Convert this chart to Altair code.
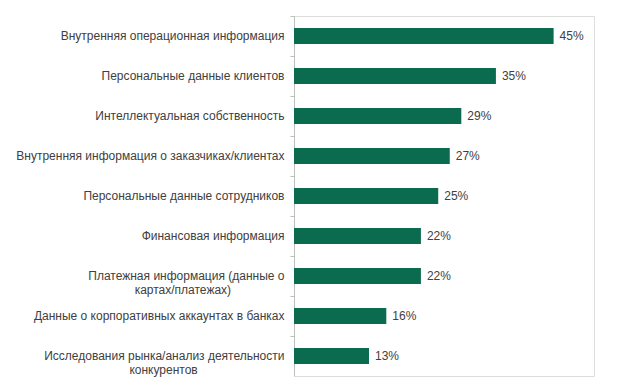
import altair as alt
import pandas as pd

categories = [
    "Внутренняя операционная информация",
    "Персональные данные клиентов",
    "Интеллектуальная собственность",
    "Внутренняя информация о заказчиках/клиентах",
    "Персональные данные сотрудников",
    "Финансовая информация",
    "Платежная информация (данные о|картах/платежах)",
    "Данные о корпоративных аккаунтах в банках",
    "Исследования рынка/анализ деятельности|конкурентов",
]
values = [45, 35, 29, 27, 25, 22, 22, 16, 13]
value_labels = ["45%", "35%", "29%", "27%", "25%", "22%", "22%", "16%", "13%"]

# visual centring of second lines (count of figure spaces appended)
second_line_pad = {
    "Платежная информация (данные о|картах/платежах)": 8,
    "Исследования рынка/анализ деятельности|конкурентов": 13,
}

df = pd.DataFrame({"cat": categories, "val": values, "lbl": value_labels})
df["disp"] = [
    c + ("\u2007" * second_line_pad[c] + "\u200d" if c in second_line_pad else "")
    for c in categories
]
sort_order = list(df["disp"])

GREEN = "#0b6b4f"
GREY = "#404040"

y_enc = alt.Y(
    "disp:N",
    sort=sort_order,
    scale=alt.Scale(padding=0),
    axis=alt.Axis(
        title=None,
        labelExpr="split(datum.label, '|')",
        labelFont="Liberation Sans",
        labelFontSize=12,
        labelColor=GREY,
        labelAlign="right",
        labelPadding=6,
        labelLineHeight=14,
        labelLimit=0,
        tickColor="#bfbfbf",
        tickSize=4,
        bandPosition=0,
        domainColor="#bfbfbf",
        grid=False,
    ),
)

x_enc = alt.X("val:Q", scale=alt.Scale(domain=[0, 52], nice=False), axis=None)

bars = alt.Chart(df).mark_bar(size=16, color=GREEN).encode(y=y_enc, x=x_enc)
text = alt.Chart(df).mark_text(
    align="left", baseline="middle", dx=6, font="Liberation Sans", fontSize=12, color=GREY
).encode(y=alt.Y("disp:N", sort=sort_order), x="val:Q", text="lbl:N")

chart = (
    alt.layer(bars, text)
    .properties(
        width=300,
        height=360,
        autosize=alt.AutoSizeParams(type="none"),
        padding={"left": 286, "top": 8, "right": 10, "bottom": 10},
    )
    .configure_view(stroke=None)
    .configure(background="white")
)

chart.save("out.html", embed_options={"renderer": "svg", "actions": False})
